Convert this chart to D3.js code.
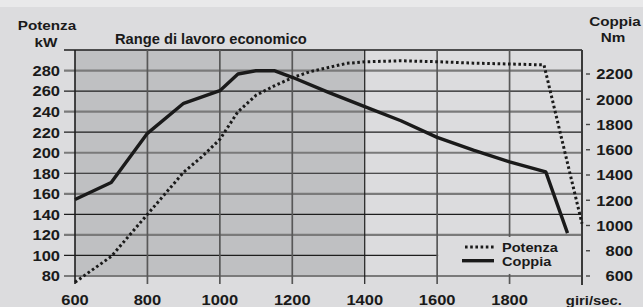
<!DOCTYPE html>
<html><head><meta charset="utf-8">
<script src="https://cdn.jsdelivr.net/npm/d3@7"></script>
<style>
html,body{margin:0;padding:0;background:#dcdcde;}
svg{display:block;font-family:'Liberation Sans',Arial,sans-serif;font-weight:bold;}
</style></head><body>
<svg id="c" width="643" height="307"></svg>
<script>
// ---- data ----
const potenzaRpm = [600,700,800,900,950,1000,1050,1100,1150,1200,1250,1300,1350,1400,1500,1600,1700,1800,1895,2000];
const potenzaKW  = [74,99,140,181,196,213,240,256,265,273,279,283,287,288.5,289.5,288.6,287.2,286.4,285.5,131];
const coppiaRpm  = [600,700,800,900,1000,1050,1100,1150,1200,1300,1400,1500,1600,1700,1800,1900,1960];
const coppiaNm   = [1206,1340,1730,1968,2068,2200,2226,2226,2174,2055,1941,1830,1698,1597,1504,1425,940];
const rpmTicks   = [600,800,1000,1200,1400,1600,1800];
const kwTicks    = [80,100,120,140,160,180,200,220,240,260,280];
const nmTicks    = [600,800,1000,1200,1400,1600,1800,2000,2200];
const ecoRange   = [600,1400];
const labels = {left:["Potenza","kW"], right:["Coppia","Nm"], range:"Range di lavoro economico", xUnit:"giri/sec.", legend:["Potenza","Coppia"]};

// ---- layout ----
const svg = d3.select("#c");
const x   = d3.scaleLinear().domain([600,2000]).range([75,582]);
const yKW = d3.scaleLinear().domain([80,300]).range([276,50]);
const yNm = d3.scaleLinear().domain([600,2200]).range([276,74]);
const ink = "#1a1a1a";
const SX = 1.1;

svg.append("rect").attr("width",643).attr("height",307).attr("fill","#dcdcde");
svg.append("rect").attr("width",643).attr("height",7).attr("fill","#e9e9ea");

// shaded economic range
svg.append("rect").attr("x",x(ecoRange[0])).attr("y",yKW(300))
  .attr("width",x(ecoRange[1])-x(ecoRange[0])).attr("height",yKW(80)-yKW(300))
  .attr("fill","#bfc0c2");

// horizontal grid
svg.append("g").selectAll("line").data(kwTicks).join("line")
  .attr("x1",64).attr("x2",x(2000)).attr("y1",d=>yKW(d)).attr("y2",d=>yKW(d))
  .attr("stroke",(d,i)=> i%2===0 ? "#7a7a7a" : "#1e1e1e")
  .attr("stroke-width",(d,i)=> i%2===0 ? 2.2 : 1.2);
// top border
svg.append("line").attr("x1",64).attr("x2",x(2000)).attr("y1",yKW(300)).attr("y2",yKW(300))
  .attr("stroke","#1e1e1e").attr("stroke-width",1.5);

// vertical grid
svg.append("g").selectAll("line").data(rpmTicks.slice(1)).join("line")
  .attr("x1",d=>x(d)).attr("x2",d=>x(d)).attr("y1",yKW(300)).attr("y2",284)
  .attr("stroke",d=> d===1400 ? "#1e1e1e" : "#585858").attr("stroke-width",d=> d===1400?1.2:1.7);
// left axis
svg.append("line").attr("x1",x(600)).attr("x2",x(600)).attr("y1",yKW(300)).attr("y2",284)
  .attr("stroke","#1e1e1e").attr("stroke-width",1.6);
// right axis
svg.append("line").attr("x1",x(2000)).attr("x2",x(2000)).attr("y1",yKW(300)).attr("y2",285)
  .attr("stroke","#3a3a3a").attr("stroke-width",2);

// legend background
svg.append("rect").attr("x",x(1600)+1).attr("y",yKW(118)).attr("width",x(2000)-x(1600)-2)
  .attr("height",yKW(82)-yKW(118)).attr("fill","#dcdcde");

// curves
const lineP = d3.line().x((d,i)=>x(potenzaRpm[i])).y(d=>yKW(d));
const lineC = d3.line().x((d,i)=>x(coppiaRpm[i])).y(d=>yNm(d));
svg.append("path").attr("d",lineC(coppiaNm)).attr("fill","none").attr("stroke",ink)
  .attr("stroke-width",3.4).attr("stroke-linejoin","round");
svg.append("path").attr("d",lineP(potenzaKW)).attr("fill","none").attr("stroke",ink)
  .attr("stroke-width",3).attr("stroke-dasharray","2.6,2.6");

// text helper
function txt(xp,yp,s,anchor,size,sx){
  svg.append("text").attr("transform",`translate(${xp},${yp}) scale(${sx},1)`)
    .attr("text-anchor",anchor).style("font-size",size+"px").attr("fill",ink).text(s);
}

// left labels
kwTicks.forEach(v=>txt(60,yKW(v)+5.4,v,"end",15,SX));
// right dashes + labels
svg.append("g").selectAll("line").data(nmTicks).join("line")
  .attr("x1",x(2000)+4).attr("x2",x(2000)+8).attr("y1",d=>yNm(d)).attr("y2",d=>yNm(d))
  .attr("stroke","#444").attr("stroke-width",1.4);
nmTicks.forEach(v=>txt(633,yNm(v)+5.4,v,"end",15,SX));
// bottom labels
rpmTicks.forEach(v=>txt(x(v),304.5,v,"middle",15,SX));
txt(622,304.5,labels.xUnit,"end",13.5,1.1);

// titles
txt(47,29.5,labels.left[0],"middle",13.5,1.13);
txt(46,46.5,labels.left[1],"middle",13.5,1.13);
txt(615,25.5,labels.right[0],"middle",13.5,1.13);
txt(613,41.5,labels.right[1],"middle",13.5,1.13);
txt(115,43.5,labels.range,"start",14,1.05);

// legend
svg.append("line").attr("x1",465).attr("x2",494).attr("y1",247).attr("y2",247)
  .attr("stroke",ink).attr("stroke-width",3).attr("stroke-dasharray","2.6,2.6");
svg.append("line").attr("x1",462).attr("x2",494).attr("y1",260.7).attr("y2",260.7)
  .attr("stroke",ink).attr("stroke-width",3.4);
txt(502,252,labels.legend[0],"start",13,1.12);
txt(502,266,labels.legend[1],"start",13,1.12);
</script>
</body></html>
